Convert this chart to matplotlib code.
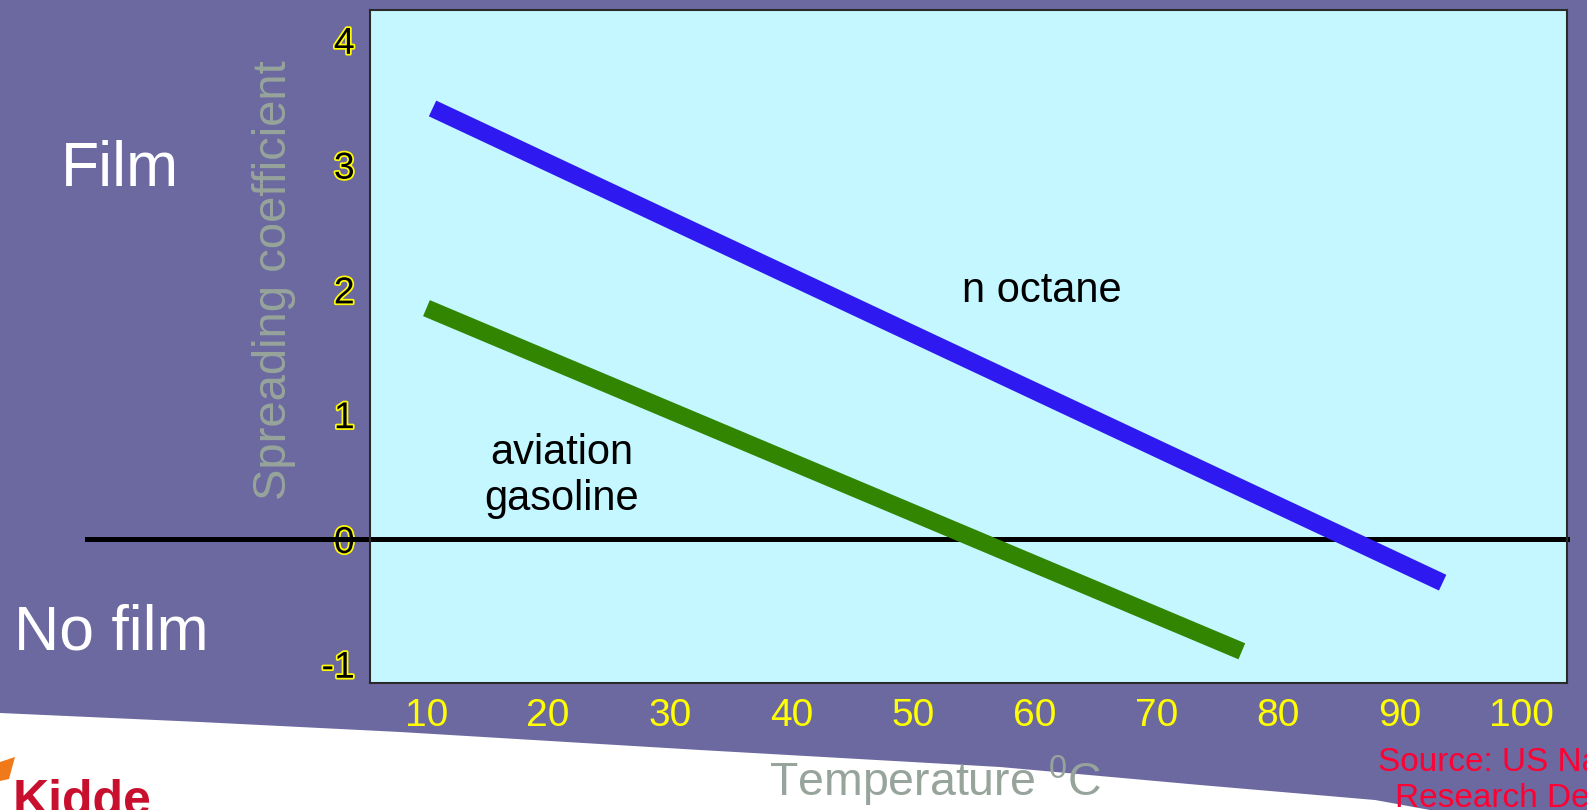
import matplotlib.pyplot as plt
from matplotlib import patheffects
from matplotlib.patches import Polygon

plt.rcParams['font.family'] = ['Liberation Sans', 'DejaVu Sans']
plt.rcParams['mathtext.default'] = 'regular'
plt.rcParams['axes.unicode_minus'] = False

# values
octane_temp = [10.5, 93.5]
octane_coef = [3.45, -0.35]
avgas_temp = [10.0, 77.0]
avgas_coef = [1.85, -0.9]
x_ticks = [10, 20, 30, 40, 50, 60, 70, 80, 90, 100]
y_ticks = [-1, 0, 1, 2, 3, 4]

W, H = 1587, 810


def fx(px):
    return px / W


def fy(py):
    return 1 - py / H


fig = plt.figure(figsize=(W / 100, H / 100), dpi=100)
fig.patch.set_facecolor('#6c69a0')

# white swoosh along the bottom of the slide
edge = [(0, 713), (200, 722), (400, 732), (700, 750), (1000, 767),
        (1200, 785), (1375, 800), (1430, 810), (0, 810)]
fig.add_artist(Polygon([(fx(a), fy(b)) for a, b in edge], closed=True,
                       transform=fig.transFigure, facecolor='white',
                       edgecolor='none', zorder=0))
# little orange flame of the logo
flame = [(0, 762), (15, 757), (9, 779), (0, 781)]
fig.add_artist(Polygon([(fx(a), fy(b)) for a, b in flame], closed=True,
                       transform=fig.transFigure, facecolor='#f07a1a',
                       edgecolor='none', zorder=1))

ax = fig.add_axes([fx(370), fy(683), fx(1197), 673 / H])
ax.set_facecolor('#c4f7ff')
for s in ax.spines.values():
    s.set_color('#2a2a2a')
    s.set_linewidth(1.5)

ax.axhline(0, xmin=-283 / 1197, xmax=1, color='black', lw=3.6,
           clip_on=False, zorder=2)
ax.plot(octane_temp, octane_coef, color='#2e1af0', lw=12.5,
        solid_capstyle='butt', zorder=3)
ax.plot(avgas_temp, avgas_coef, color='#318500', lw=12.5,
        solid_capstyle='butt', zorder=3)

ax.set_xlim(5.36, 103.72)
ax.set_ylim(-1.154, 4.239)
ax.set_xticks(x_ticks)
ax.set_yticks(y_ticks)
ax.tick_params(axis='x', length=0, pad=11, labelsize=28, labelcolor='#ffff00')
ax.tick_params(axis='y', length=0, pad=11, labelsize=27, labelcolor='black')
for lab in ax.get_yticklabels():
    lab.set_path_effects([patheffects.withStroke(linewidth=2.5, foreground='#ffff00')])

fig.text(fx(1042), fy(302), 'n octane', ha='center', va='baseline',
         fontsize=30, color='black')
fig.text(fx(562), fy(476), 'aviation\ngasoline', ha='center', va='center',
         fontsize=30, color='black', linespacing=1.2)

fig.text(fx(120), fy(186), 'Film', ha='center', va='baseline',
         fontsize=45, color='white')
fig.text(fx(111), fy(650), 'No film', ha='center', va='baseline',
         fontsize=45, color='white')
fig.text(fx(274), fy(280), 'Spreading coefficient', rotation=90,
         ha='center', va='center', fontsize=34, color='#97a49b')
fig.text(fx(935), fy(796), 'Temperature $^0$C', ha='center', va='baseline',
         fontsize=33.5, color='#97a49b')
fig.text(fx(1378), fy(747), 'Source: US Naval\nResearch Dept.', ha='left',
         va='top', multialignment='center', fontsize=24, color='#ff0033')
fig.text(fx(13), fy(815), 'Kidde', ha='left', va='baseline', fontsize=36,
         fontweight='bold', color='#c8102e')

plt.savefig('out.png', dpi=100, facecolor=fig.get_facecolor())
